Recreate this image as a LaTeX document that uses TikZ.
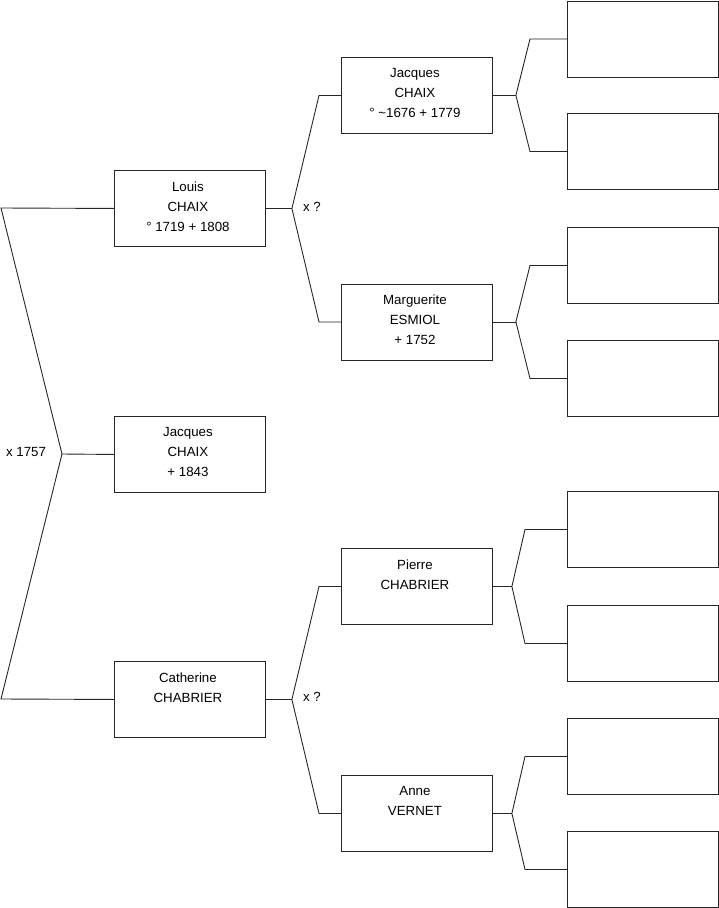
\documentclass[tikz,border=0pt]{standalone}
\usepackage{fontspec}
\setmainfont{Liberation Sans}
\begin{document}
\begin{tikzpicture}[x=1pt,y=-1pt,
  box/.style={draw=black!85, line width=0.9pt, minimum width=151pt, minimum height=76pt, inner sep=0pt, anchor=north west},
  txt/.style={anchor=north, align=center, inner sep=0pt, xshift=-2pt, font=\fontsize{13.3}{20}\selectfont},
  lab/.style={inner sep=0pt, font=\fontsize{13.3}{15}\selectfont},
  conn/.style={draw=black!85, line width=0.9pt}]
\useasboundingbox (0,0) rectangle (719,908);
% generation 1
\node[box] (louis) at (114,170) {};
\node[txt] at ([yshift=-11.5pt]louis.north) {Louis\\CHAIX\\° 1719 + 1808};
\node[box] (jacq) at (114,416) {};
\node[txt] at ([yshift=-11.5pt]jacq.north) {Jacques\\CHAIX\\ + 1843};
\node[box] (cath) at (114,661) {};
\node[txt] at ([yshift=-11.5pt]cath.north) {Catherine\\CHABRIER};
% generation 2
\node[box] (jc) at (341,57) {};
\node[txt] at ([yshift=-11.5pt]jc.north) {Jacques\\CHAIX\\° \textasciitilde1676 + 1779};
\node[box] (me) at (341,283.5) {};
\node[txt] at ([yshift=-11.5pt]me.north) {Marguerite\\ESMIOL\\ + 1752};
\node[box] (pc) at (341,548) {};
\node[txt] at ([yshift=-11.5pt]pc.north) {Pierre\\CHABRIER};
\node[box] (av) at (341,775) {};
\node[txt] at ([yshift=-11.5pt]av.north) {Anne\\VERNET};
% generation 3
\node[box] (r1) at (567,0.5) {};
\node[box] (r2) at (567,113) {};
\node[box] (r3) at (567,227) {};
\node[box] (r4) at (567,340) {};
\node[box] (r5) at (567,491) {};
\node[box] (r6) at (567,605) {};
\node[box] (r7) at (567,718) {};
\node[box] (r8) at (567,831) {};
% labels
\node[lab] (m1) at (26,452) {x 1757};
\node[lab] (m2) at (312,207) {x ?};
\node[lab] (m3) at (312,697) {x ?};
% connectors gen 1
\coordinate (L1) at (1,208);
\coordinate (Lm) at (62,454);
\coordinate (L3) at (1,699);
\draw[conn] (louis.west) -- (L1) -- (Lm) -- (L3) -- (cath.west);
\draw[conn] (Lm) -- (jacq.west);
% connectors gen 2
\coordinate (A) at ([xshift=26pt]louis.east);
\draw[conn] (louis.east) -- (A);
\draw[conn] (A) -- ([xshift=-22pt]jc.west) -- (jc.west);
\draw[conn] (A) -- ([xshift=-22pt]me.west) -- (me.west);
\coordinate (B) at ([xshift=26pt]cath.east);
\draw[conn] (cath.east) -- (B);
\draw[conn] (B) -- ([xshift=-22pt]pc.west) -- (pc.west);
\draw[conn] (B) -- ([xshift=-22pt]av.west) -- (av.west);
% connectors gen 3
\coordinate (C1) at ([xshift=23pt]jc.east);
\draw[conn] (jc.east) -- (C1);
\draw[conn] (C1) -- ([xshift=-37pt]r1.west) -- (r1.west);
\draw[conn] (C1) -- ([xshift=-37pt]r2.west) -- (r2.west);
\coordinate (C2) at ([xshift=23pt]me.east);
\draw[conn] (me.east) -- (C2);
\draw[conn] (C2) -- ([xshift=-37pt]r3.west) -- (r3.west);
\draw[conn] (C2) -- ([xshift=-37pt]r4.west) -- (r4.west);
\coordinate (C3) at ([xshift=19pt]pc.east);
\draw[conn] (pc.east) -- (C3);
\draw[conn] (C3) -- ([xshift=-42pt]r5.west) -- (r5.west);
\draw[conn] (C3) -- ([xshift=-42pt]r6.west) -- (r6.west);
\coordinate (C4) at ([xshift=19pt]av.east);
\draw[conn] (av.east) -- (C4);
\draw[conn] (C4) -- ([xshift=-42pt]r7.west) -- (r7.west);
\draw[conn] (C4) -- ([xshift=-42pt]r8.west) -- (r8.west);
\end{tikzpicture}
\end{document}
